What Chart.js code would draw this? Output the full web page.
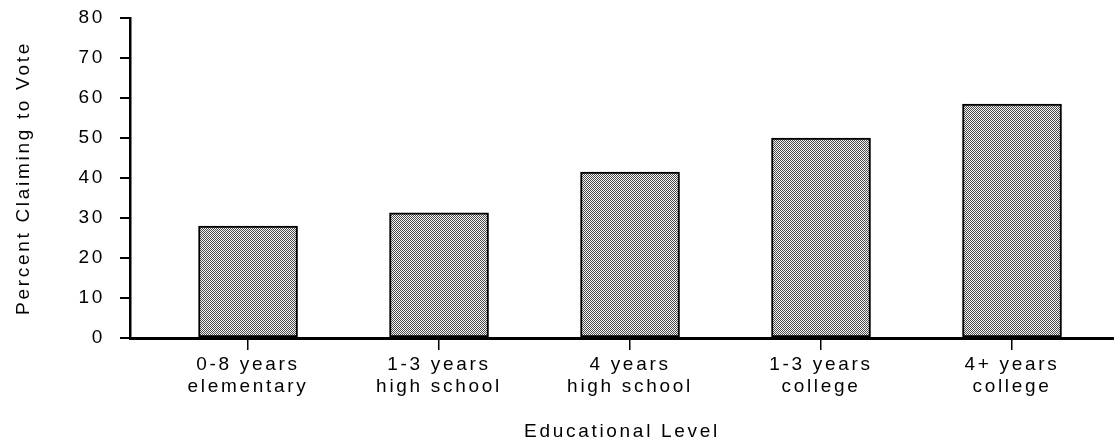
<!DOCTYPE html>
<html>
<head>
<meta charset="utf-8">
<script src="https://cdn.jsdelivr.net/npm/chart.js@4"></script>
<style>
  html, body { margin: 0; padding: 0; background: #fff; }
  #wrap { width: 1114px; height: 443px; position: relative; }
</style>
</head>
<body>
<div id="wrap"><canvas id="voteChart"></canvas></div>
<script>
const categories = [
  ["0-8 years", "elementary"],
  ["1-3 years", "high school"],
  ["4 years", "high school"],
  ["1-3 years", "college"],
  ["4+ years", "college"],
];
const percentVoting = [28, 31.3, 41.5, 50, 58.5];
const yTicks = [0, 10, 20, 30, 40, 50, 60, 70, 80];

document.addEventListener("DOMContentLoaded", function () {
  const canvas = document.getElementById("voteChart");
  const ctx = canvas.getContext("2d");

  // little dot screen like the old printed bars
  const tile = document.createElement("canvas");
  tile.width = 2;
  tile.height = 2;
  const t = tile.getContext("2d");
  t.fillStyle = "#f6f6f6";
  t.fillRect(0, 0, 2, 2);
  t.fillStyle = "#4a4a4a";
  t.fillRect(0, 0, 1, 1);
  t.fillRect(1, 1, 1, 1);
  const stipple = ctx.createPattern(tile, "repeat");

  // the original type is set wide
  const tracking = {
    id: "tracking",
    beforeLayout(chart) { chart.ctx.letterSpacing = "2.7px"; },
    beforeDraw(chart) { chart.ctx.letterSpacing = "2.7px"; },
  };

  Chart.defaults.font.family = "'Liberation Sans', Arial, Helvetica, sans-serif";
  Chart.defaults.font.size = 19;
  Chart.defaults.color = "#000";

  new Chart(ctx, {
    type: "bar",
    data: {
      datasets: [
        {
          data: percentVoting.map(function (v, i) { return { x: i, y: v }; }),
          backgroundColor: stipple,
          borderColor: "#000",
          borderWidth: 2,
          borderSkipped: false,
          barThickness: 99,
        },
      ],
    },
    plugins: [tracking],
    options: {
      responsive: true,
      maintainAspectRatio: false,
      animation: false,
      layout: { padding: { top: 18, right: 0, bottom: 0, left: 0 } },
      plugins: {
        legend: { display: false },
        tooltip: { enabled: false },
      },
      scales: {
        x: {
          type: "linear",
          offset: false,
          min: -0.618,
          max: 4.534,
          afterBuildTicks: function (scale) {
            scale.ticks = categories.map(function (_, i) { return { value: i }; });
          },
          afterFit: function (scale) { scale.height = 105; },
          ticks: {
            autoSkip: false,
            maxRotation: 0,
            padding: 3,
            callback: function (value) { return categories[value]; },
          },
          grid: {
            offset: false,
            drawOnChartArea: false,
            tickLength: 12,
            color: "#000",
            lineWidth: 1.5,
          },
          border: { color: "#000", width: 3 },
          title: {
            display: true,
            text: "Educational Level",
            padding: 0,
          },
        },
        y: {
          min: 0,
          max: 80,
          afterBuildTicks: function (scale) {
            scale.ticks = yTicks.map(function (v) { return { value: v }; });
          },
          afterFit: function (scale) {
            scale.width = 130;
            scale.paddingTop = 0;
            scale.paddingBottom = 0;
          },
          ticks: { padding: 15 },
          grid: {
            drawOnChartArea: false,
            tickLength: 10,
            color: "#000",
            lineWidth: 2,
          },
          border: { color: "#000", width: 2.5 },
          title: {
            display: true,
            text: "Percent Claiming to Vote",
            padding: { top: 12, bottom: 0 },
          },
        },
      },
    },
  });
});
</script>
</body>
</html>
